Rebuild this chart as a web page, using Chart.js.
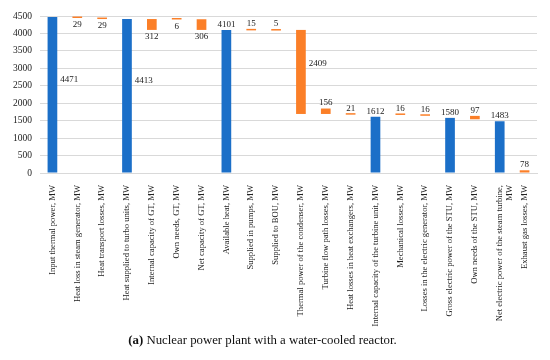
<!DOCTYPE html>
<html>
<head>
<meta charset="utf-8">
<script src="https://cdn.jsdelivr.net/npm/chart.js@4.4.1/dist/chart.umd.min.js"></script>
<style>
  body { margin: 0; background: #fff; }
  #wrap { position: relative; width: 550px; height: 360px; }
  #box { position: absolute; left: 0; top: 0; width: 550px; height: 335px; }
  #caption { position: absolute; left: 0; top: 333px; width: 525px; text-align: center;
             font-family: "Liberation Serif", serif; font-size: 12.8px; color: #111; }
</style>
</head>
<body>
<div id="wrap">
  <div id="box"><canvas id="grafico"></canvas></div>
  <div id="caption"><b>(a)</b> Nuclear power plant with a water-cooled reactor.</div>
</div>
<script>
// Datos
const categorias = [
  'Input thermal power, MW',
  'Heat loss in steam generator, MW',
  'Heat transport losses, MW',
  'Heat supplied to turbo units, MW',
  'Internal capacity of GT, MW',
  'Own needs, GT, MW',
  'Net capacity of GT, MW',
  'Available heat, MW',
  'Supplied in pumps, MW',
  'Supplied to BOU, MW',
  'Thermal power of the condenser, MW',
  'Turbine flow path losses, MW',
  'Heat losses in heat exchangers, MW',
  'Internal capacity of the turbine unit, MW',
  'Mechanical losses, MW',
  'Losses in the electric generator, MW',
  'Gross electric power of the STU, MW',
  'Own needs of the STU, MW',
  ['Net electric power of the steam turbine,', 'MW'],
  'Exhaust gas losses, MW'
];
const valores = [4471, 29, 29, 4413, 312, 6, 306, 4101, 15, 5, 2409, 156, 21, 1612, 16, 16, 1580, 97, 1483, 78];
const bases   = [0, 4442, 4413, 0, 4101, 4400, 4101, 0, 4088, 4083, 1692, 1692, 1672, 0, 1664, 1640, 0, 1540, 0, 0];
const tipos   = ['total', 'loss', 'loss', 'total', 'loss', 'loss', 'loss', 'total', 'loss', 'loss',
                 'loss', 'loss', 'loss', 'total', 'loss', 'loss', 'total', 'loss', 'total', 'loss'];
const ticksY  = [0, 500, 1000, 1500, 2000, 2500, 3000, 3500, 4000, 4500];

const AZUL = '#1b6fc8';
const NARANJA = '#fb7f28';
const FUENTE = '"Liberation Serif", "Times New Roman", serif';

// posición de cada etiqueta respecto a su barra
const lado = ['right', 'below', 'below', 'right', 'below', 'below', 'below', 'above', 'above', 'above',
              'right', 'above', 'above', 'above', 'above', 'above', 'above', 'above', 'above', 'above'];

const etiquetas = {
  id: 'etiquetas',
  afterDatasetsDraw(chart) {
    const ctx = chart.ctx;
    const y = chart.scales.y;
    const meta = chart.getDatasetMeta(0);
    ctx.save();
    ctx.font = '9px ' + FUENTE;
    ctx.fillStyle = '#222';
    meta.data.forEach((bar, i) => {
      const top = y.getPixelForValue(bases[i] + valores[i]);
      const bot = y.getPixelForValue(bases[i]);
      const txt = String(valores[i]);
      if (lado[i] === 'right') {
        ctx.textAlign = 'left';
        ctx.textBaseline = 'middle';
        ctx.fillText(txt, bar.x + bar.width / 2 + 3, y.getPixelForValue(bases[i] + valores[i] * 0.6));
      } else if (lado[i] === 'below') {
        ctx.textAlign = 'center';
        ctx.textBaseline = 'top';
        ctx.fillText(txt, bar.x, Math.max(bot, top + 1) + 2);
      } else {
        ctx.textAlign = 'center';
        ctx.textBaseline = 'bottom';
        ctx.fillText(txt, bar.x, Math.min(top, bot - 1) - 1);
      }
    });
    ctx.restore();
  }
};

const ctx = document.getElementById('grafico');
new Chart(ctx, {
  type: 'bar',
  data: {
    labels: categorias,
    datasets: [{
      data: valores.map((v, i) => [bases[i], bases[i] + v]),
      backgroundColor: tipos.map(t => t === 'total' ? AZUL : NARANJA),
      barPercentage: 0.39,
      categoryPercentage: 1,
      minBarLength: 1.5
    }]
  },
  options: {
    responsive: true,
    maintainAspectRatio: false,
    animation: false,
    layout: { padding: { top: 16, right: 13, left: 0, bottom: 0 } },
    plugins: { legend: { display: false }, tooltip: { enabled: false } },
    scales: {
      x: {
        grid: { display: false },
        border: { display: true, color: '#d9d9d9' },
        ticks: {
          autoSkip: false, maxRotation: 90, minRotation: 90, padding: 4,
          color: '#222', font: { family: FUENTE, size: 8.6 }
        },
        afterFit: s => { s.height = 162; }
      },
      y: {
        min: 0, max: 4500,
        afterBuildTicks: s => { s.ticks = ticksY.map(v => ({ value: v })); },
        grid: { color: '#d9d9d9', drawTicks: false },
        border: { display: false },
        ticks: {
          padding: 8, color: '#222', font: { family: FUENTE, size: 9.5 },
          callback: v => String(v)
        },
        afterFit: s => { s.width = 40; }
      }
    }
  },
  plugins: [etiquetas]
});
</script>
</body>
</html>
